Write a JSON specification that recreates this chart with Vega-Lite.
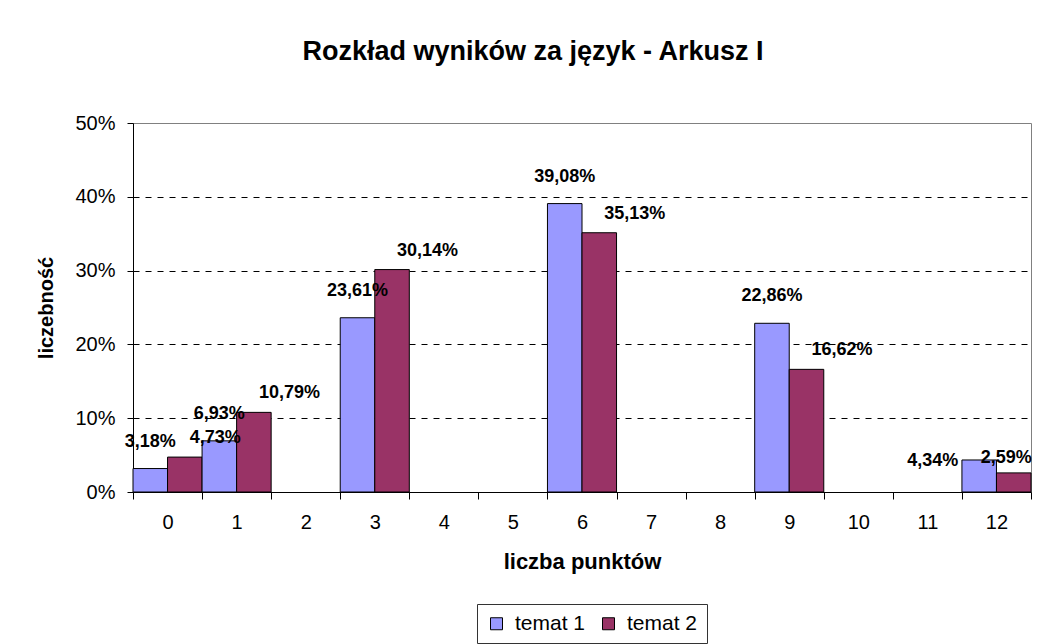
{
  "$schema": "https://vega.github.io/schema/vega-lite/v6.json",
  "autosize": "none",
  "width": 898,
  "height": 369,
  "padding": {"left": 133, "top": 123, "right": 8, "bottom": 152},
  "background": "white",
  "config": {
    "font": "Liberation Sans",
    "locale": {"number": {"decimal": ",", "thousands": " ", "grouping": [3], "currency": ["", " zł"]}},
    "view": {"stroke": "#808080", "strokeWidth": 1}
  },
  "title": {
    "text": "Rozkład wyników za język - Arkusz I",
    "fontSize": 27,
    "fontWeight": "bold",
    "color": "black",
    "anchor": "middle",
    "dx": -49,
    "offset": 47
  },
  "data": {
    "values": [
      {"pkt": 0, "seria": "temat 1", "v": 0.0318},
      {"pkt": 0, "seria": "temat 2", "v": 0.0473},
      {"pkt": 1, "seria": "temat 1", "v": 0.0693},
      {"pkt": 1, "seria": "temat 2", "v": 0.1079},
      {"pkt": 3, "seria": "temat 1", "v": 0.2361},
      {"pkt": 3, "seria": "temat 2", "v": 0.3014},
      {"pkt": 6, "seria": "temat 1", "v": 0.3908},
      {"pkt": 6, "seria": "temat 2", "v": 0.3513},
      {"pkt": 9, "seria": "temat 1", "v": 0.2286},
      {"pkt": 9, "seria": "temat 2", "v": 0.1662},
      {"pkt": 12, "seria": "temat 1", "v": 0.0434},
      {"pkt": 12, "seria": "temat 2", "v": 0.0259}
    ]
  },
  "encoding": {
    "x": {
      "field": "pkt",
      "type": "ordinal",
      "scale": {"domain": [0,1,2,3,4,5,6,7,8,9,10,11,12], "paddingInner": 0, "paddingOuter": 0},
      "title": "liczba punktów",
      "axis": {
        "labelAngle": 0,
        "labelFontSize": 20,
        "labelColor": "black",
        "labelPadding": 13,
        "tickBand": "extent",
        "tickSize": 7,
        "tickColor": "black",
        "domainColor": "black",
        "titleFontSize": 22,
        "titleFontWeight": "bold",
        "titleColor": "black",
        "titlePadding": 19
      }
    },
    "xOffset": {"field": "seria", "type": "nominal", "scale": {"domain": ["temat 1", "temat 2"], "paddingInner": 0, "paddingOuter": 0}},
    "y": {
      "field": "v",
      "type": "quantitative",
      "scale": {"domain": [0, 0.5]},
      "title": "liczebność",
      "axis": {
        "format": ".0%",
        "values": [0, 0.1, 0.2, 0.3, 0.4, 0.5],
        "labelFontSize": 20,
        "labelColor": "black",
        "labelPadding": 12,
        "tickSize": 6,
        "tickColor": "black",
        "domainColor": "black",
        "grid": true,
        "gridColor": {"condition": {"test": "datum.value == 0 || datum.value == 0.5", "value": "transparent"}, "value": "black"},
        "gridDash": [6, 6],
        "gridWidth": 1,
        "titleFontSize": 20,
        "titleFontWeight": "bold",
        "titleColor": "black",
        "titlePadding": 18
      }
    }
  },
  "layer": [
    {
      "mark": {"type": "bar", "stroke": "black", "strokeWidth": 1},
      "encoding": {
        "color": {
          "field": "seria",
          "type": "nominal",
          "scale": {"domain": ["temat 1", "temat 2"], "range": ["#9999FF", "#993366"]},
          "legend": {
            "title": null,
            "orient": "none",
            "direction": "horizontal",
            "legendX": 344,
            "legendY": 481,
            "symbolType": "square",
            "symbolSize": 144,
            "symbolStrokeColor": "black",
            "symbolStrokeWidth": 1,
            "symbolOpacity": 1,
            "labelFontSize": 21,
            "labelColor": "black",
            "labelOffset": 8,
            "columnPadding": 12,
            "strokeColor": "#333333",
            "padding": 9,
            "fillColor": "white"
          }
        }
      }
    },
    {
      "transform": [{"filter": "datum.seria == 'temat 1'"}],
      "mark": {
        "type": "text",
        "fontWeight": "bold",
        "fontSize": 18,
        "color": "black",
        "baseline": "bottom",
        "align": {"expr": "datum.pkt == 12 ? 'right' : 'center'"},
        "dx": {"expr": "datum.pkt == 12 ? -21 : 0"},
        "dy": {"expr": "datum.pkt == 12 ? 10 : -18"}
      },
      "encoding": {
        "text": {"field": "v", "type": "quantitative", "format": ".2%"}
      }
    },
    {
      "transform": [{"filter": "datum.seria == 'temat 2'"}],
      "mark": {
        "type": "text",
        "fontWeight": "bold",
        "fontSize": 18,
        "color": "black",
        "baseline": "bottom",
        "align": {"expr": "datum.pkt == 12 ? 'right' : 'left'"},
        "dx": {"expr": "datum.pkt == 12 ? 18 : 5"},
        "dy": {"expr": "datum.pkt == 12 ? -6 : -10"}
      },
      "encoding": {
        "text": {"field": "v", "type": "quantitative", "format": ".2%"}
      }
    }
  ]
}
